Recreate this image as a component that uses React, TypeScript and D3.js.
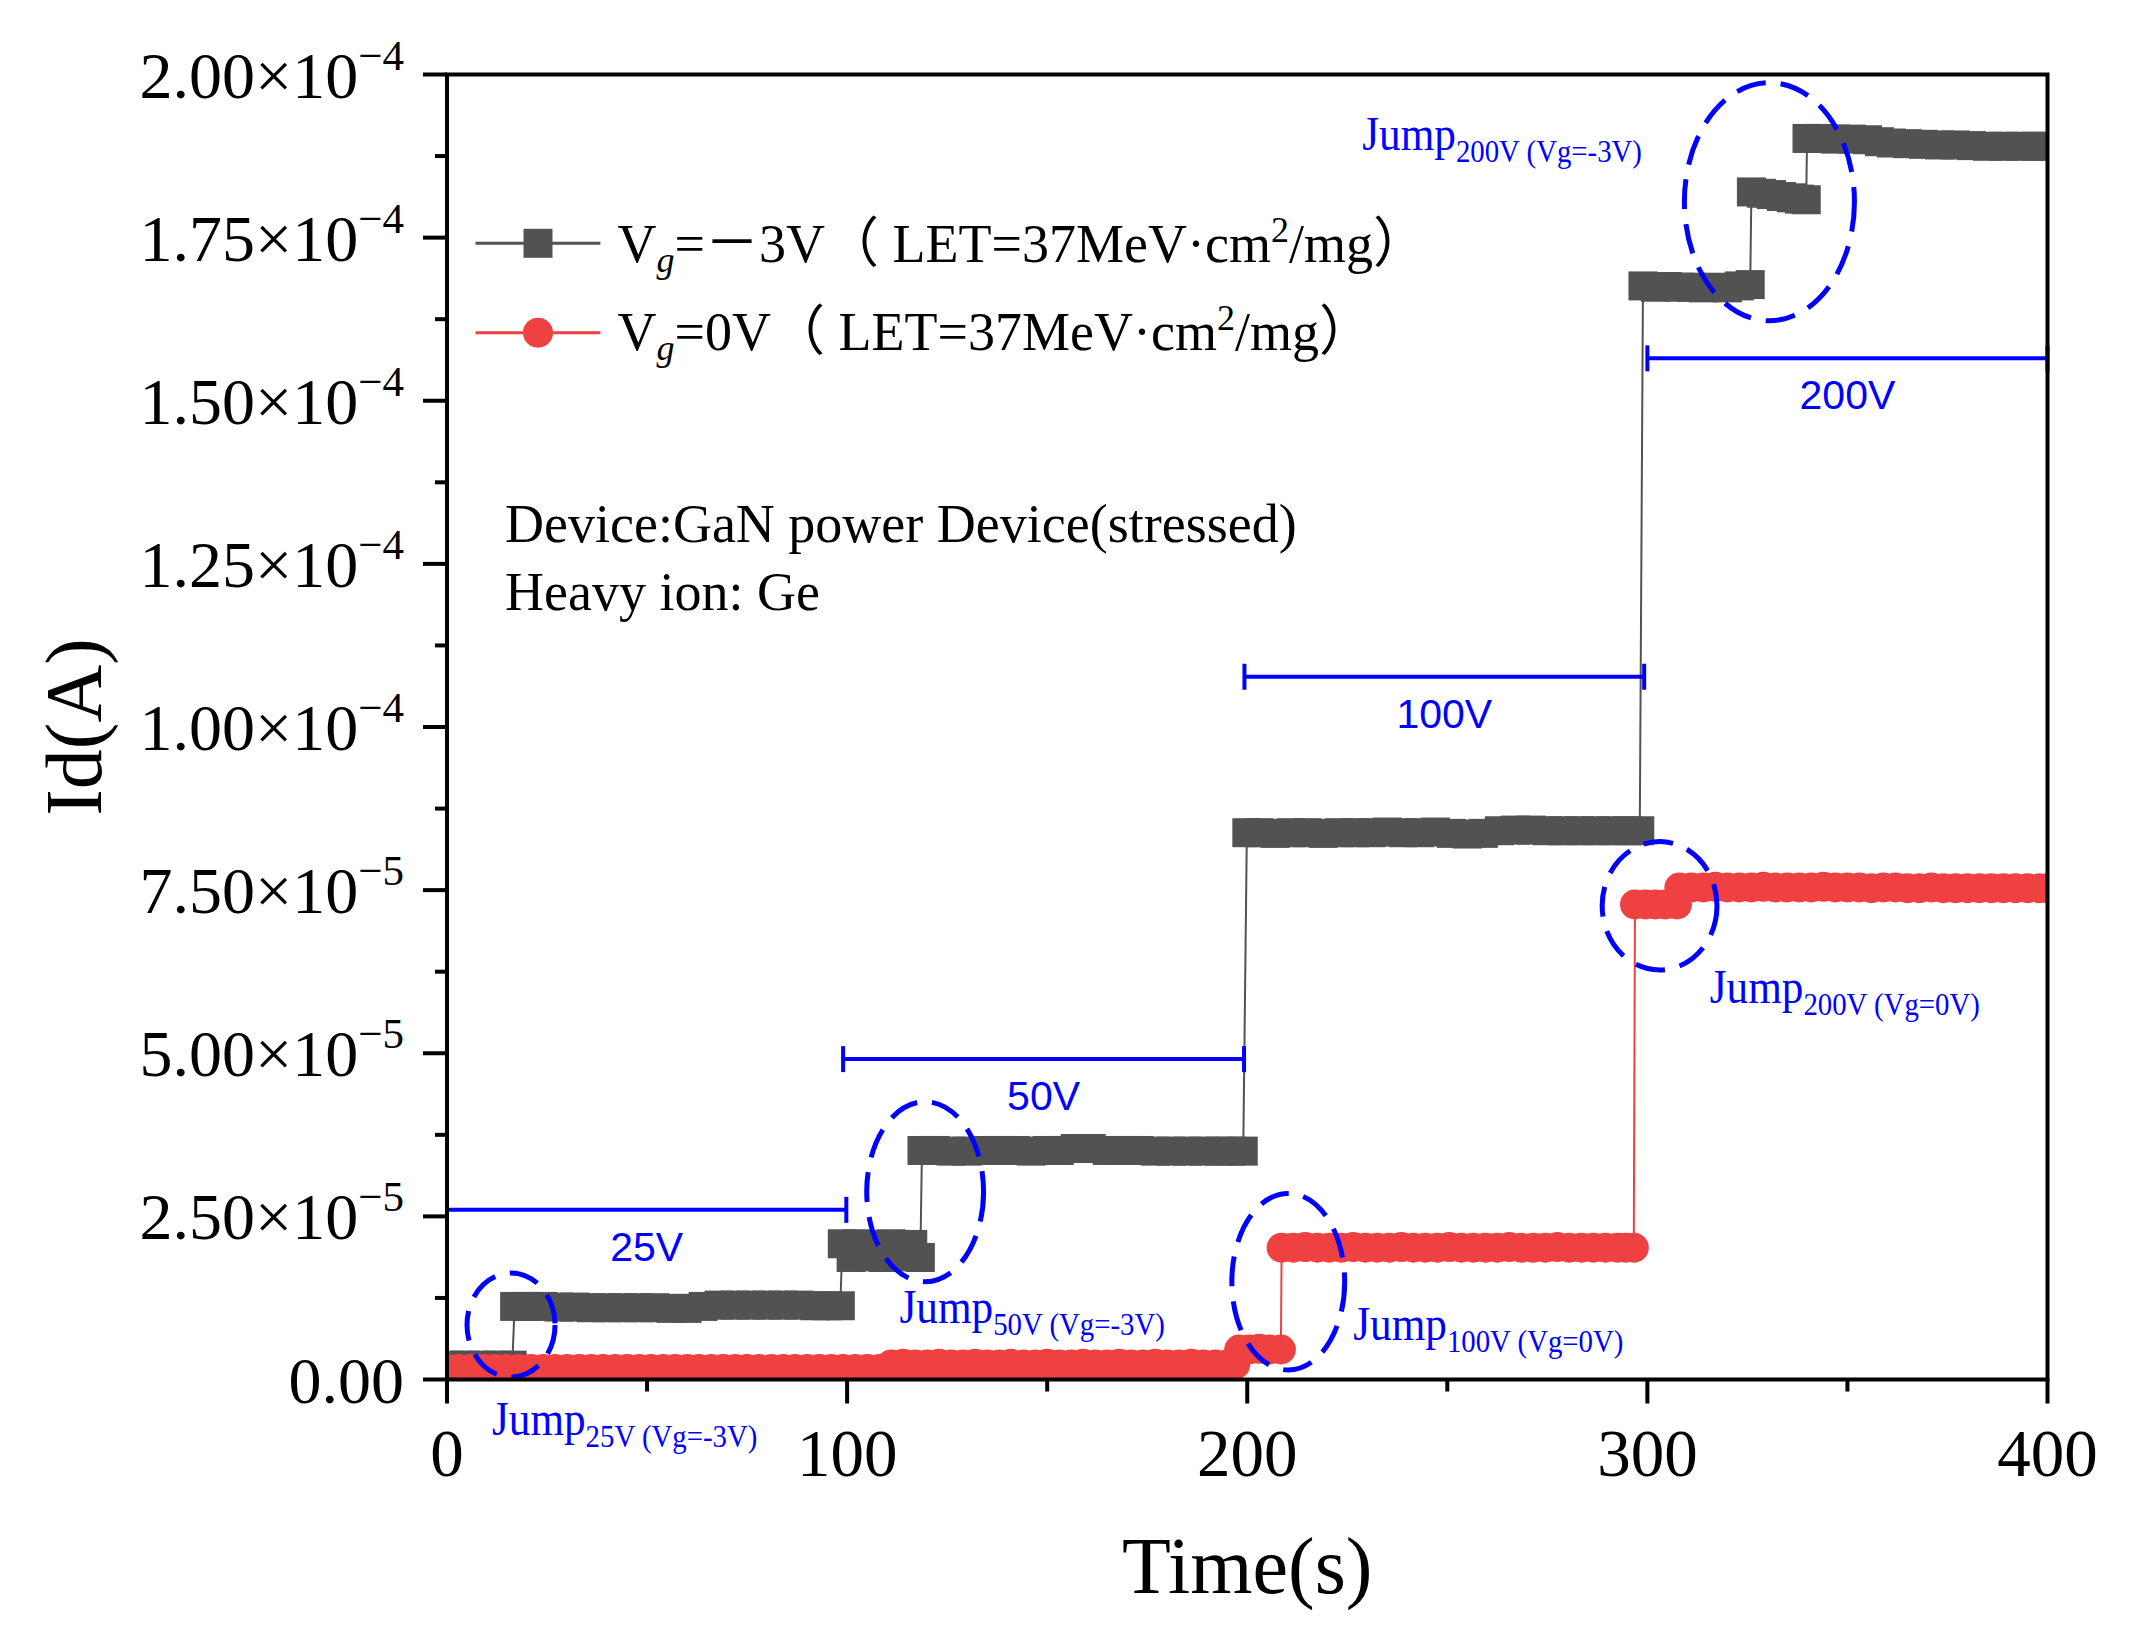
import React from 'react';
import * as d3 from 'd3';

// ---------- axes ----------
const xTickValues = [0, 100, 200, 300, 400];
const xTickLabels = ['0', '100', '200', '300', '400'];
const xMinorTickValues = [50, 150, 250, 350];
// y values are in units of 1e-5 A
const yTickValues = [0, 2.5, 5, 7.5, 10, 12.5, 15, 17.5, 20];
const yTickMantissas = ['0.00', '2.50', '5.00', '7.50', '1.00', '1.25', '1.50', '1.75', '2.00'];
const yTickExponents = ['', '\u22125', '\u22125', '\u22125', '\u22124', '\u22124', '\u22124', '\u22124', '\u22124'];
const yMinorTickValues = [1.25, 3.75, 6.25, 8.75, 11.25, 13.75, 16.25, 18.75];

// ---------- series: Vg = -3V (time s, Id in 1e-5 A) ----------
const grayPoints: [number, number][] = [
  [0.8, 0.22], [4.5, 0.22], [8.5, 0.22], [12.5, 0.22], [16.3, 0.22],
  [16.9, 1.12], [20, 1.12], [24, 1.12], [28, 1.11], [32, 1.11], [36, 1.10], [40, 1.10], [44, 1.10],
  [48, 1.10], [52, 1.10], [56, 1.09], [60, 1.09], [64, 1.12], [68, 1.14], [72, 1.14], [76, 1.14],
  [80, 1.14], [84, 1.14], [88, 1.14], [92, 1.13], [95, 1.13], [98.3, 1.13],
  [98.8, 2.08], [101, 1.87], [102.5, 2.08], [105, 1.88], [107, 2.07], [109, 1.87], [111, 2.08],
  [113, 1.88], [116.4, 2.07], [118.3, 1.87],
  [118.7, 3.51], [122, 3.51], [126, 3.50], [130, 3.50], [134, 3.51], [138, 3.51], [142, 3.51],
  [146, 3.50], [150, 3.51], [153, 3.51], [157, 3.54], [161, 3.54], [165, 3.51], [169, 3.51],
  [173, 3.51], [177, 3.50], [181, 3.50], [185, 3.50], [189, 3.50], [193, 3.50], [196, 3.50], [199, 3.50],
  [199.9, 8.38], [203, 8.38], [207, 8.37], [211, 8.38], [215, 8.38], [219, 8.37], [223, 8.38],
  [227, 8.38], [231, 8.38], [235, 8.39], [239, 8.38], [243, 8.38], [247, 8.39], [251, 8.37],
  [255, 8.36], [259, 8.37], [263, 8.41], [267, 8.42], [271, 8.42], [275, 8.41], [279, 8.41],
  [283, 8.41], [287, 8.41], [291, 8.41], [295, 8.41], [298.1, 8.41],
  [298.9, 16.76], [302, 16.74], [305, 16.75], [308, 16.74], [311, 16.74], [314, 16.73], [317, 16.74],
  [320, 16.73], [323, 16.76], [325.7, 16.78],
  [326, 18.20], [328.5, 18.18], [331, 18.16], [333.5, 18.13], [336, 18.11], [338, 18.09], [339.7, 18.08],
  [339.9, 19.02], [343, 19.02], [347, 19.01], [351, 19.01], [355, 19.00], [358, 18.97], [361, 18.95],
  [365, 18.94], [369, 18.93], [373, 18.92], [377, 18.92], [381, 18.91], [385, 18.90], [389, 18.90],
  [393, 18.90], [397, 18.90], [400, 18.90],
];

// ---------- series: Vg = 0V ----------
const redPoints: [number, number][] = [
  [0, 0.16], [3, 0.16], [6, 0.16], [9, 0.16], [12, 0.16], [15, 0.16], [18, 0.16], [21, 0.16],
  [24, 0.16], [27, 0.16], [30, 0.16], [33, 0.16], [36, 0.16], [39, 0.16], [42, 0.16], [45, 0.16],
  [48, 0.16], [51, 0.16], [54, 0.16], [57, 0.16], [60, 0.16], [63, 0.16], [66, 0.16], [69, 0.16],
  [72, 0.16], [75, 0.16], [78, 0.16], [81, 0.16], [84, 0.16], [87, 0.16], [90, 0.16], [93, 0.16],
  [96, 0.16], [99, 0.16], [102, 0.16], [105, 0.16], [108, 0.16],
  [111, 0.23], [114, 0.24], [117, 0.23], [120, 0.23], [123, 0.24], [126, 0.23], [129, 0.23],
  [132, 0.24], [135, 0.23], [138, 0.23], [141, 0.24], [144, 0.23], [147, 0.23], [150, 0.24],
  [153, 0.23], [156, 0.23], [159, 0.24], [162, 0.23], [165, 0.23], [168, 0.24], [171, 0.23],
  [174, 0.23], [177, 0.24], [180, 0.23], [183, 0.23], [186, 0.24], [189, 0.23], [192, 0.23],
  [195, 0.23], [197, 0.23],
  [198, 0.46], [200.5, 0.46], [203, 0.47], [205.5, 0.46], [208.4, 0.46],
  [208.6, 2.02], [211.5, 2.02], [214.5, 2.03], [217.5, 2.02], [220.5, 2.02], [223.5, 2.02],
  [226.5, 2.03], [229.5, 2.02], [232.5, 2.02], [235.5, 2.02], [238.5, 2.03], [241.5, 2.02],
  [244.5, 2.02], [247.5, 2.02], [250.5, 2.03], [253.5, 2.02], [256.5, 2.02], [259.5, 2.02],
  [262.5, 2.02], [265.5, 2.03], [268.5, 2.02], [271.5, 2.02], [274.5, 2.02], [277.5, 2.03],
  [280.5, 2.02], [283.5, 2.02], [286.5, 2.02], [289.5, 2.02], [292.5, 2.02], [294.5, 2.02], [296.6, 2.02],
  [296.9, 7.28], [299.5, 7.28], [302, 7.28], [304.5, 7.28], [307.4, 7.28],
  [308, 7.54], [311, 7.54], [314, 7.54], [317, 7.55], [320, 7.54], [323, 7.54], [326, 7.54],
  [329, 7.55], [332, 7.54], [335, 7.54], [338, 7.54], [341, 7.54], [344, 7.55], [347, 7.54],
  [350, 7.54], [353, 7.54], [356, 7.53], [359, 7.54], [362, 7.54], [365, 7.53], [368, 7.53],
  [371, 7.54], [374, 7.53], [377, 7.53], [380, 7.53], [383, 7.53], [386, 7.53], [389, 7.53],
  [392, 7.53], [395, 7.53], [398, 7.53], [400, 7.53],
];

// ---------- annotations ----------
const spanStarts = [0, 99, 199.3, 300];
const spanEnds = [99.8, 199.2, 299.2, 400];
const spanLevels = [2.6, 4.91, 10.77, 15.65];
const spanLabels = ['25V', '50V', '100V', '200V'];

const ringTimes = [16, 119.5, 210.25, 303.05, 330.5];
const ringValues = [0.835, 2.878, 1.499, 7.26, 18.05];
const ringRadiusT = [11, 14.6, 14.1, 14.35, 21.25];
const ringRadiusV = [0.797, 1.379, 1.353, 0.984, 1.824];

const jumpTimes = [11.25, 113.1, 226.5, 315.6, 228.75];
const jumpValues = [-0.851, 0.861, 0.605, 5.765, 18.84];
const jumpSubs = ['25V (Vg=-3V)', '50V (Vg=-3V)', '100V (Vg=0V)', '200V (Vg=0V)', '200V (Vg=-3V)'];

const noteLines = ['Device:GaN power Device(stressed)', 'Heavy ion: Ge'];

const GRAY = '#525252';
const RED = '#EF4141';
const BLUE = '#0000FF';
const SERIF = "'Liberation Serif', 'Times New Roman', serif";
const CJK = "'Noto Sans CJK SC', 'Liberation Serif', serif";
const SANS = "'Liberation Sans', Arial, sans-serif";

export default function App() {
  const W = 2150;
  const H = 1646;
  const left = 447, right = 2047.5, top = 74.5, bottom = 1379.5;
  const x = d3.scaleLinear().domain([0, 400]).range([left, right]);
  const y = d3.scaleLinear().domain([0, 20]).range([bottom, top]);
  const line = d3.line<[number, number]>().x((d) => x(d[0])).y((d) => y(d[1]));
  const sq = 29;
  const rr = 15;
  const majorLen = 24;
  const minorLen = 12;
  const axisW = 4;

  return (
    <svg width={W} height={H} style={{ position: 'absolute', left: 0, top: 0, display: 'block', background: '#fff' }}
      fontFamily={SERIF}>
      <defs>
        <clipPath id="plotClip">
          <rect x={left} y={top} width={right - left} height={bottom - top} />
        </clipPath>
      </defs>
      <rect x={0} y={0} width={W} height={H} fill="#fff" />

      <g clipPath="url(#plotClip)">
        {/* gray series */}
        <path d={line(grayPoints) || ''} fill="none" stroke={GRAY} strokeWidth={2} />
        {grayPoints.map((d, i) => (
          <rect key={'g' + i} x={x(d[0]) - sq / 2} y={y(d[1]) - sq / 2} width={sq} height={sq} fill={GRAY} />
        ))}
        {/* red series */}
        <path d={line(redPoints) || ''} fill="none" stroke={RED} strokeWidth={2} />
        {redPoints.map((d, i) => (
          <circle key={'r' + i} cx={x(d[0])} cy={y(d[1])} r={rr} fill={RED} />
        ))}
      </g>

      {/* voltage spans */}
      {spanLabels.map((lab, i) => {
        const yy = y(spanLevels[i]);
        const x0 = x(spanStarts[i]);
        const x1 = x(spanEnds[i]);
        return (
          <g key={'s' + i}>
            <line x1={x0} x2={x1} y1={yy} y2={yy} stroke={BLUE} strokeWidth={4} />
            <line x1={x0} x2={x0} y1={yy - 13} y2={yy + 13} stroke={BLUE} strokeWidth={4} />
            <line x1={x1} x2={x1} y1={yy - 13} y2={yy + 13} stroke={BLUE} strokeWidth={4} />
            <text x={(x0 + x1) / 2} y={yy + 51} textAnchor="middle" fontFamily={SANS} fontSize={41} fill={BLUE}>{lab}</text>
          </g>
        );
      })}

      {/* dashed ellipses */}
      {ringTimes.map((t, i) => (
        <ellipse key={'e' + i} cx={x(t)} cy={y(ringValues[i])}
          rx={x(ringRadiusT[i]) - x(0)} ry={y(0) - y(ringRadiusV[i])}
          fill="none" stroke={BLUE} strokeWidth={5} strokeDasharray="30 15" />
      ))}

      {/* jump labels */}
      {jumpTimes.map((t, i) => (
        <text key={'j' + i} transform={`translate(${x(t)},${y(jumpValues[i])}) scale(0.9,1)`} fill={BLUE} fontSize={48}>
          Jump<tspan fontSize={32} dy={12}>{jumpSubs[i]}</tspan>
        </text>
      ))}

      {/* device note */}
      {noteLines.map((s, i) => (
        <text key={'n' + i} x={505} y={541.6 + i * 68.4} fontSize={54}>{s}</text>
      ))}

      {/* legend */}
      <g>
        <line x1={475.5} x2={600.4} y1={243.3} y2={243.3} stroke={GRAY} strokeWidth={3} />
        <rect x={538 - sq / 2} y={243.3 - sq / 2} width={sq} height={sq} fill={GRAY} />
        <text x={617.6} y={261.7} fontSize={54}>
          V<tspan fontSize={36} fontStyle="italic" dy={10}>g</tspan><tspan dy={-10}>=</tspan><tspan fontFamily={CJK}>{'\uFF0D'}</tspan>3V<tspan fontFamily={CJK}>{'\uFF08'}</tspan> LET=37MeV·cm<tspan fontSize={36} dy={-20}>2</tspan><tspan dy={20}>/mg</tspan><tspan fontFamily={CJK}>{'\uFF09'}</tspan>
        </text>
        <line x1={475.5} x2={600.4} y1={332.7} y2={332.7} stroke={RED} strokeWidth={3} />
        <circle cx={538} cy={332.7} r={rr} fill={RED} />
        <text x={617.6} y={350} fontSize={54}>
          V<tspan fontSize={36} fontStyle="italic" dy={10}>g</tspan><tspan dy={-10}>=0V</tspan><tspan fontFamily={CJK}>{'\uFF08'}</tspan> LET=37MeV·cm<tspan fontSize={36} dy={-20}>2</tspan><tspan dy={20}>/mg</tspan><tspan fontFamily={CJK}>{'\uFF09'}</tspan>
        </text>
      </g>

      {/* frame */}
      <rect x={left} y={top} width={right - left} height={bottom - top} fill="none" stroke="#000" strokeWidth={axisW} />

      {/* y ticks */}
      {yTickValues.map((v, i) => (
        <g key={'yt' + i}>
          <line x1={left - majorLen} x2={left} y1={y(v)} y2={y(v)} stroke="#000" strokeWidth={axisW} />
          <text x={404} y={y(v) + 23} textAnchor="end" fontSize={66}>
            {yTickMantissas[i]}
            {yTickExponents[i] ? (
              <>
                ×10<tspan fontSize={43} dy={-28}>{yTickExponents[i]}</tspan>
              </>
            ) : null}
          </text>
        </g>
      ))}
      {yMinorTickValues.map((v, i) => (
        <line key={'ym' + i} x1={left - minorLen} x2={left} y1={y(v)} y2={y(v)} stroke="#000" strokeWidth={axisW} />
      ))}

      {/* x ticks */}
      {xTickValues.map((t, i) => (
        <g key={'xt' + i}>
          <line x1={x(t)} x2={x(t)} y1={bottom} y2={bottom + majorLen} stroke="#000" strokeWidth={axisW} />
          <text x={x(t)} y={1476} textAnchor="middle" fontSize={67}>{xTickLabels[i]}</text>
        </g>
      ))}
      {xMinorTickValues.map((t, i) => (
        <line key={'xm' + i} x1={x(t)} x2={x(t)} y1={bottom} y2={bottom + minorLen} stroke="#000" strokeWidth={axisW} />
      ))}

      {/* axis titles */}
      <text x={(left + right) / 2} y={1593} textAnchor="middle" fontSize={80}>Time(s)</text>
      <text transform={`translate(101,${(top + bottom) / 2}) rotate(-90)`} textAnchor="middle" fontSize={80}>Id(A)</text>
    </svg>
  );
}
